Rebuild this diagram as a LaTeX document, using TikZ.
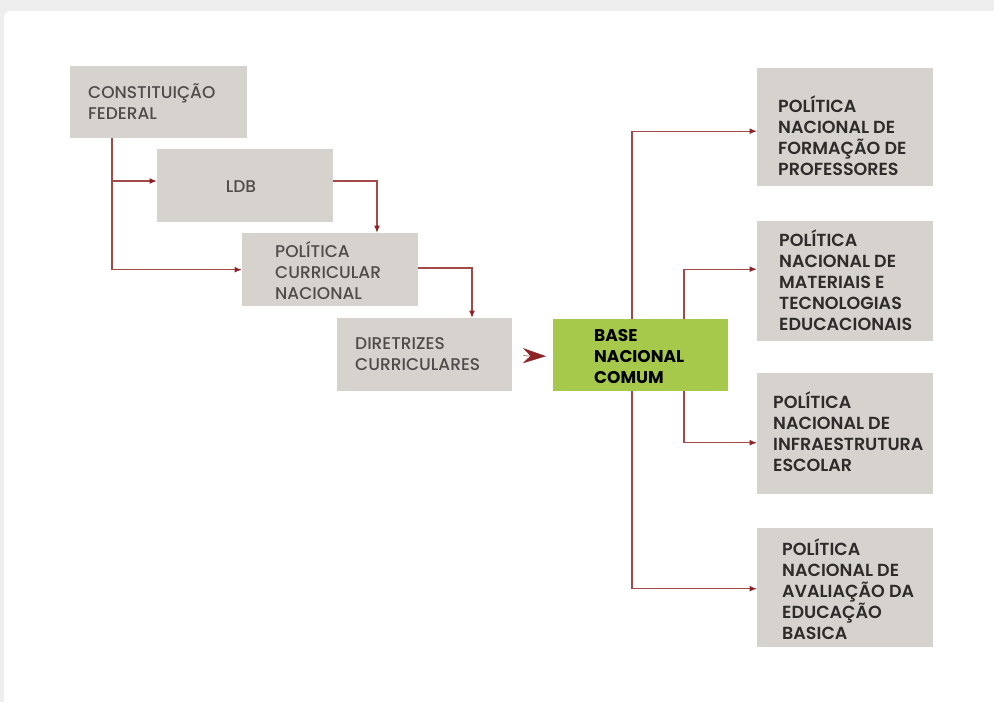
\documentclass[tikz,border=0pt]{standalone}
\usepackage{fontspec}
\setmainfont{Poppins}
\newfontfamily\medfont{Poppins Medium}
\newfontfamily\semifont{Poppins SemiBold}
\usepackage{xcolor}
\usepackage{tikz}
\usetikzlibrary{calc,arrows.meta}
\definecolor{boxgray}{HTML}{D6D3CF}
\definecolor{bnc}{HTML}{A6C94B}
\definecolor{wire}{HTML}{A14A47}
\definecolor{tip}{HTML}{8E2326}
\definecolor{txtl}{HTML}{4E4C4A}
\definecolor{txtr}{HTML}{2E2C2B}
\definecolor{frame}{HTML}{EEEEEE}
\tikzset{
  box/.style={fill=boxgray, draw=none, inner sep=0pt},
  greenbox/.style={fill=bnc, draw=none, inner sep=0pt},
  lab/.style={text=txtl, font=\medfont\fontsize{17}{21}\selectfont, align=left, inner sep=0pt},
  labr/.style={text=txtr, font=\semifont\fontsize{17.5}{21}\selectfont, align=left, inner sep=0pt},
  labb/.style={text=black, font=\fontsize{17}{21}\selectfont\bfseries, align=left, inner sep=0pt},
  link/.style={draw=wire, line width=1.4pt, -{Latex[length=7.5pt,width=6pt,color=tip]}},
  bigarrow/.style={draw=tip, line width=0.5pt, -{Stealth[length=23pt,width=15pt,color=tip]}},
}

\begin{document}
\begin{tikzpicture}[x=1pt,y=-1pt]
  \useasboundingbox (0,0) rectangle (994,702);
  \fill[frame] (0,0) rectangle (994,702);
  \fill[white,rounded corners=6pt] (4,11) rectangle (1004,712);

  % left cascade
  \node[box,minimum width=177pt,minimum height=72pt,anchor=north west] (cf)  at (70,66)  {};
  \node[box,minimum width=176pt,minimum height=73pt,anchor=north west] (ldb) at (157,149) {};
  \node[box,minimum width=176pt,minimum height=73pt,anchor=north west] (pcn) at (242,233) {};
  \node[box,minimum width=175pt,minimum height=73pt,anchor=north west] (dir) at (337,318) {};
  \node[greenbox,minimum width=175pt,minimum height=72pt,anchor=north west] (base) at (553,319) {};

  \node[lab,anchor=west] (cft)  at (88,102)  {CONSTITUIÇÃO\\FEDERAL};
  \node[lab] (ldbt) at (241,187) {LDB};
  \node[lab,anchor=west] (pcnt) at (275,271) {POLÍTICA\\CURRICULAR\\NACIONAL};
  \node[lab,anchor=west] (dirt) at (355,354) {DIRETRIZES\\CURRICULARES};
  \node[labb,anchor=west] (baset) at (594,357) {BASE\\NACIONAL\\COMUM};

  % right column
  \node[box,minimum width=176pt,minimum height=118pt,anchor=north west] (form) at (757,68)  {};
  \node[box,minimum width=176pt,minimum height=120pt,anchor=north west] (mat)  at (757,221) {};
  \node[box,minimum width=176pt,minimum height=121pt,anchor=north west] (infra) at (757,373) {};
  \node[box,minimum width=176pt,minimum height=119pt,anchor=north west] (aval) at (757,528) {};

  \node[labr,anchor=west] (formt)  at (778,136) {POLÍTICA\\NACIONAL DE\\FORMAÇÃO DE\\PROFESSORES};
  \node[labr,anchor=west] (matt)   at (779,280) {POLÍTICA\\NACIONAL DE\\MATERIAIS E\\TECNOLOGIAS\\EDUCACIONAIS};
  \node[labr,anchor=west] (infrat) at (773,432) {POLÍTICA\\NACIONAL DE\\INFRAESTRUTURA\\ESCOLAR};
  \node[labr,anchor=west] (avalt)  at (782,589) {POLÍTICA\\NACIONAL DE\\AVALIAÇÃO DA\\EDUCAÇÃO\\BASICA};

  % connectors
  \coordinate (cfj) at (112,181);
  \coordinate (ldbc) at (377,181);
  \coordinate (pcnc) at (472,268);
  \draw[link] (cf.south -| cfj) |- (pcn.west);
  \draw[link] (cfj) -- (cfj -| ldb.west);
  \draw[link] (ldb.east |- ldbc) -| (pcn.north -| ldbc);
  \draw[link] (pcn.east |- pcnc) -| (dir.north -| pcnc);
  \draw[bigarrow] ($(dir.east)+(11,1)$) -- ($(base.west)+(-7,1)$);

  \coordinate (bl) at (632,0);
  \coordinate (br) at (684,0);
  \draw[link] (base.north -| bl) |- ($(form.west)+(0,4)$);
  \draw[link] (base.north -| br) |- ($(mat.west)+(0,-12)$);
  \draw[link] (base.south -| br) |- ($(infra.west)+(0,9)$);
  \draw[link] (base.south -| bl) |- ($(aval.west)+(0,1)$);
\end{tikzpicture}
\end{document}
